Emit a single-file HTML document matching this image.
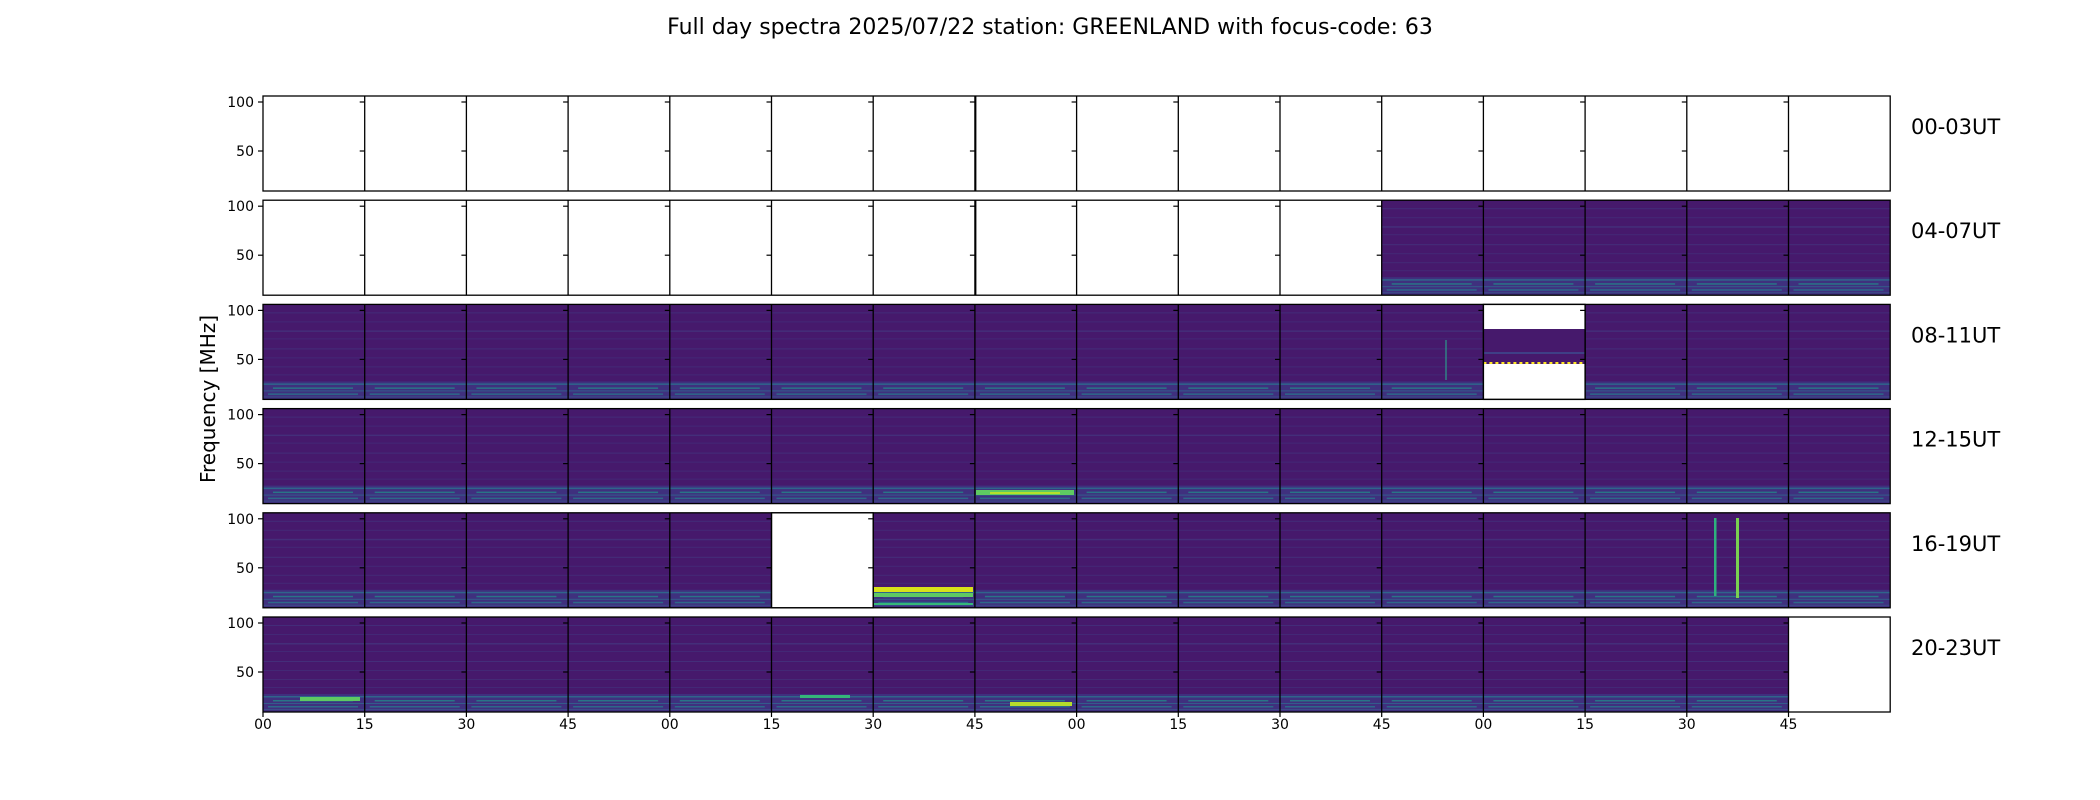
<!DOCTYPE html>
<html><head><meta charset="utf-8"><style>
html,body{margin:0;padding:0;background:#fff;}
svg{display:block;font-family:"DejaVu Sans","Liberation Sans",sans-serif;}
</style></head><body>
<svg width="2100" height="800" viewBox="0 0 2100 800" xmlns="http://www.w3.org/2000/svg">
<defs>
<g id="spec">
<rect x="0" y="0" width="101.7" height="95" fill="#46196c"/>
<rect x="0" y="8" width="101.7" height="1" fill="#3f3f86" opacity=".5"/>
<rect x="0" y="17" width="101.7" height="1" fill="#3f3f86" opacity=".4"/>
<rect x="0" y="26" width="101.7" height="1.5" fill="#414487" opacity=".5"/>
<rect x="0" y="34" width="101.7" height="1" fill="#3f3f86" opacity=".4"/>
<rect x="0" y="44" width="101.7" height="1" fill="#414487" opacity=".5"/>
<rect x="0" y="53" width="101.7" height="1" fill="#3f3f86" opacity=".4"/>
<rect x="0" y="62" width="101.7" height="1" fill="#414487" opacity=".4"/>
<rect x="0" y="70" width="101.7" height="1" fill="#3f3f86" opacity=".4"/>
<rect x="0" y="77" width="101.7" height="18" fill="#3d3683" opacity=".8"/>
<rect x="0" y="79" width="101.7" height="1.5" fill="#2c728e" opacity=".8"/>
<rect x="10" y="83" width="80" height="1.5" fill="#21918c" opacity=".7"/>
<rect x="0" y="86" width="101.7" height="1" fill="#31688e" opacity=".8"/>
<rect x="5" y="89" width="90" height="1.5" fill="#27808e" opacity=".7"/>
<rect x="0" y="92" width="101.7" height="1" fill="#3b528b" opacity=".8"/>
</g>
<g id="tk">
<line x1="-5" y1="6" x2="0" y2="6" stroke="#000" stroke-width="1.2"/>
<line x1="-5" y1="55" x2="0" y2="55" stroke="#000" stroke-width="1.2"/>
</g>
<g id="tkrow">
<use href="#tk" x="263"/><use href="#tk" x="364.7"/><use href="#tk" x="466.4"/><use href="#tk" x="568.1"/><use href="#tk" x="669.8"/><use href="#tk" x="771.5"/><use href="#tk" x="873.2"/><use href="#tk" x="974.9"/><use href="#tk" x="1076.6"/><use href="#tk" x="1178.3"/><use href="#tk" x="1280"/><use href="#tk" x="1381.7"/><use href="#tk" x="1483.4"/><use href="#tk" x="1585.1"/><use href="#tk" x="1686.8"/><use href="#tk" x="1788.5"/>
</g>
</defs>

<text x="1050" y="34" font-size="22" text-anchor="middle">Full day spectra 2025/07/22 station: GREENLAND with focus-code: 63</text>
<text transform="translate(215,399) rotate(-90)" font-size="20" text-anchor="middle">Frequency [MHz]</text>

<use href="#spec" x="1381.7" y="200.2"/><use href="#spec" x="1483.4" y="200.2"/><use href="#spec" x="1585.1" y="200.2"/><use href="#spec" x="1686.8" y="200.2"/><use href="#spec" x="1788.5" y="200.2"/>
<use href="#spec" x="263" y="304.4"/><use href="#spec" x="364.7" y="304.4"/><use href="#spec" x="466.4" y="304.4"/><use href="#spec" x="568.1" y="304.4"/><use href="#spec" x="669.8" y="304.4"/><use href="#spec" x="771.5" y="304.4"/><use href="#spec" x="873.2" y="304.4"/><use href="#spec" x="974.9" y="304.4"/><use href="#spec" x="1076.6" y="304.4"/><use href="#spec" x="1178.3" y="304.4"/><use href="#spec" x="1280" y="304.4"/><use href="#spec" x="1381.7" y="304.4"/><use href="#spec" x="1585.1" y="304.4"/><use href="#spec" x="1686.8" y="304.4"/><use href="#spec" x="1788.5" y="304.4"/>
<rect x="1483.4" y="329" width="101.7" height="35" fill="#46196c"/>
<rect x="1483.4" y="352" width="101.7" height="2" fill="#3f3f86"/>
<line x1="1483.4" y1="363" x2="1585.1" y2="363" stroke="#fde725" stroke-width="2" stroke-dasharray="3 3"/>
<line x1="1446" y1="340" x2="1446" y2="380" stroke="#2c9a8c" stroke-width="1.2"/>
<use href="#spec" x="263" y="408.6"/><use href="#spec" x="364.7" y="408.6"/><use href="#spec" x="466.4" y="408.6"/><use href="#spec" x="568.1" y="408.6"/><use href="#spec" x="669.8" y="408.6"/><use href="#spec" x="771.5" y="408.6"/><use href="#spec" x="873.2" y="408.6"/><use href="#spec" x="974.9" y="408.6"/><use href="#spec" x="1076.6" y="408.6"/><use href="#spec" x="1178.3" y="408.6"/><use href="#spec" x="1280" y="408.6"/><use href="#spec" x="1381.7" y="408.6"/><use href="#spec" x="1483.4" y="408.6"/><use href="#spec" x="1585.1" y="408.6"/><use href="#spec" x="1686.8" y="408.6"/><use href="#spec" x="1788.5" y="408.6"/>
<rect x="976" y="490" width="98" height="5" fill="#5ec962"/>
<rect x="990" y="492" width="70" height="2" fill="#b5de2b"/>
<use href="#spec" x="263" y="512.8"/><use href="#spec" x="364.7" y="512.8"/><use href="#spec" x="466.4" y="512.8"/><use href="#spec" x="568.1" y="512.8"/><use href="#spec" x="669.8" y="512.8"/><use href="#spec" x="873.2" y="512.8"/><use href="#spec" x="974.9" y="512.8"/><use href="#spec" x="1076.6" y="512.8"/><use href="#spec" x="1178.3" y="512.8"/><use href="#spec" x="1280" y="512.8"/><use href="#spec" x="1381.7" y="512.8"/><use href="#spec" x="1483.4" y="512.8"/><use href="#spec" x="1585.1" y="512.8"/><use href="#spec" x="1686.8" y="512.8"/><use href="#spec" x="1788.5" y="512.8"/>
<rect x="874" y="587" width="99" height="5" fill="#d8e219"/>
<rect x="874" y="593" width="99" height="4" fill="#5ec962"/>
<rect x="874" y="603" width="99" height="2" fill="#35b779"/>
<rect x="1714" y="518" width="2.5" height="78" fill="#2db27d"/>
<rect x="1736" y="518" width="3" height="80" fill="#7ad151"/>
<use href="#spec" x="263" y="617"/><use href="#spec" x="364.7" y="617"/><use href="#spec" x="466.4" y="617"/><use href="#spec" x="568.1" y="617"/><use href="#spec" x="669.8" y="617"/><use href="#spec" x="771.5" y="617"/><use href="#spec" x="873.2" y="617"/><use href="#spec" x="974.9" y="617"/><use href="#spec" x="1076.6" y="617"/><use href="#spec" x="1178.3" y="617"/><use href="#spec" x="1280" y="617"/><use href="#spec" x="1381.7" y="617"/><use href="#spec" x="1483.4" y="617"/><use href="#spec" x="1585.1" y="617"/><use href="#spec" x="1686.8" y="617"/>
<rect x="300" y="697" width="60" height="4" fill="#5ec962"/>
<rect x="1010" y="702" width="62" height="4" fill="#b5de2b"/>
<rect x="800" y="695" width="50" height="3" fill="#35b779"/>

<g fill="none" stroke="#000" stroke-width="1.3">
<rect x="263" y="96" width="1627.2" height="95"/>
<rect x="263" y="200.2" width="1627.2" height="95"/>
<rect x="263" y="304.4" width="1627.2" height="95"/>
<rect x="263" y="408.6" width="1627.2" height="95"/>
<rect x="263" y="512.8" width="1627.2" height="95"/>
<rect x="263" y="617" width="1627.2" height="95"/>
<rect x="1483.4" y="304.4" width="101.7" height="95"/>
<rect x="771.5" y="512.8" width="101.7" height="95"/>
</g>
<g stroke="#000" stroke-width="1.3">
<path id="vl" d="M364.7 96V191M466.4 96V191M568.1 96V191M669.8 96V191M771.5 96V191M873.2 96V191M974.9 96V191M1076.6 96V191M1178.3 96V191M1280 96V191M1381.7 96V191M1483.4 96V191M1585.1 96V191M1686.8 96V191M1788.5 96V191"/>
<use href="#vl" y="104.2"/><use href="#vl" y="208.4"/><use href="#vl" y="312.6"/><use href="#vl" y="416.8"/><use href="#vl" y="521"/>
<path d="M975.9 96V191M975.9 200.2V295.2" stroke-width="1"/>
</g>
<use href="#tkrow" y="96"/><use href="#tkrow" y="200.2"/><use href="#tkrow" y="304.4"/><use href="#tkrow" y="408.6"/><use href="#tkrow" y="512.8"/><use href="#tkrow" y="617"/>
<g font-size="14" text-anchor="end">
<text x="254" y="107">100</text><text x="254" y="156">50</text>
<text x="254" y="211.2">100</text><text x="254" y="260.2">50</text>
<text x="254" y="315.4">100</text><text x="254" y="364.4">50</text>
<text x="254" y="419.6">100</text><text x="254" y="468.6">50</text>
<text x="254" y="523.8">100</text><text x="254" y="572.8">50</text>
<text x="254" y="628">100</text><text x="254" y="677">50</text>
</g>
<g stroke="#000" stroke-width="1.2">
<path d="M263 712v5M364.7 712v5M466.4 712v5M568.1 712v5M669.8 712v5M771.5 712v5M873.2 712v5M974.9 712v5M1076.6 712v5M1178.3 712v5M1280 712v5M1381.7 712v5M1483.4 712v5M1585.1 712v5M1686.8 712v5M1788.5 712v5"/>
</g>
<g font-size="14" text-anchor="middle">
<text x="263" y="729">00</text><text x="364.7" y="729">15</text><text x="466.4" y="729">30</text><text x="568.1" y="729">45</text>
<text x="669.8" y="729">00</text><text x="771.5" y="729">15</text><text x="873.2" y="729">30</text><text x="974.9" y="729">45</text>
<text x="1076.6" y="729">00</text><text x="1178.3" y="729">15</text><text x="1280" y="729">30</text><text x="1381.7" y="729">45</text>
<text x="1483.4" y="729">00</text><text x="1585.1" y="729">15</text><text x="1686.8" y="729">30</text><text x="1788.5" y="729">45</text>
</g>
<g font-size="21">
<text x="1911" y="134">00-03UT</text>
<text x="1911" y="238.2">04-07UT</text>
<text x="1911" y="342.4">08-11UT</text>
<text x="1911" y="446.6">12-15UT</text>
<text x="1911" y="550.8">16-19UT</text>
<text x="1911" y="655">20-23UT</text>
</g>
</svg>
</body></html>
